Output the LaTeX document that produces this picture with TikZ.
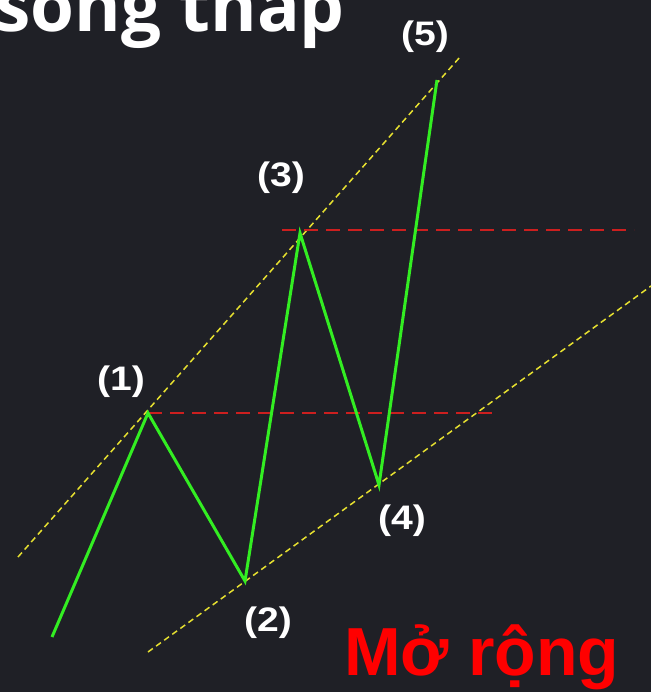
\documentclass[tikz,border=0pt]{standalone}
\usepackage{fontspec}
\setmainfont{Liberation Sans}
\newfontfamily\titlefont{Open Sans}
\definecolor{bg}{HTML}{1F2026}
\definecolor{wavegreen}{HTML}{33EE22}
\definecolor{chanyellow}{HTML}{E6E030}
\definecolor{lvlred}{HTML}{CC1F1F}
\begin{document}
\begin{tikzpicture}[x=1pt,y=-1pt,
  wave/.style={wavegreen,line width=3pt,line join=miter},
  chan/.style={chanyellow,line width=1.5pt,dash pattern=on 6pt off 4pt},
  lvl/.style={lvlred,line width=1.5pt,dash pattern=on 14pt off 8pt},
  lbl/.style={white,font=\bfseries\fontsize{34}{34}\selectfont,xscale=1.15,inner sep=0pt}]
\fill[bg] (0,0) rectangle (651,692);
\useasboundingbox (0,0) rectangle (651,692);
\begin{scope}
\clip (0,0) rectangle (651,692);
\node[white,anchor=base west,inner sep=0pt,font=\titlefont\bfseries\fontsize{71}{71}\selectfont] (title) at (-5,32) {song thap};
\end{scope}
% wave points
\coordinate (w0) at (52,637);
\coordinate (w1) at (148,413);
\coordinate (w2) at (245,581);
\coordinate (w3) at (300,233);
\coordinate (w4) at (379,485);
\coordinate (w5) at (437,80);
% channel end points
\coordinate (u0) at (18,557);
\coordinate (u1) at (460,57);
\coordinate (l0) at (148,652);
\coordinate (l1) at (651,286);
% level end points
\coordinate (r1) at (497,413);
\coordinate (r3a) at (282,230);
\coordinate (r3b) at (634,230);
\draw[chan] (u0) -- (u1);
\draw[chan] (l0) -- (l1);
\draw[lvl] (w1) -- (r1);
\draw[lvl] (r3a) -- (r3b);
\draw[wave] (w0) -- (w1) -- (w2) -- (w3) -- (w4) -- (w5);
\node[lbl] (n1) at (121,382) {(1)};
\node[lbl] (n2) at (268,623) {(2)};
\node[lbl] (n3) at (281,178) {(3)};
\node[lbl] (n4) at (402,521) {(4)};
\node[lbl] (n5) at (425,37) {(5)};
\node[red,anchor=base west,inner sep=0pt,font=\bfseries\fontsize{68}{68}\selectfont] (morong) at (344,675) {Mở rộng};
\end{tikzpicture}
\end{document}
